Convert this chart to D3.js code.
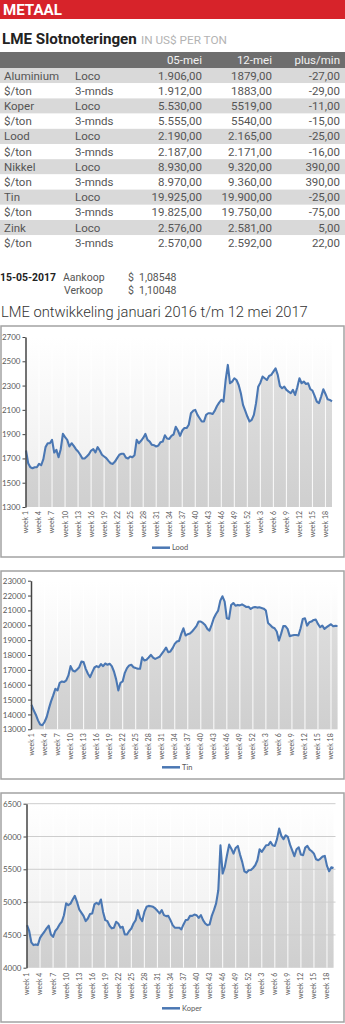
<!DOCTYPE html>
<html><head><meta charset="utf-8">
<script src="https://cdn.jsdelivr.net/npm/d3@7"></script>
<style>
html,body{margin:0;padding:0;background:#fff;}
svg{display:block;}
</style></head>
<body><svg id="c" width="345" height="1024"></svg>
<script>
// ---------- data ----------
const metals  = ["Aluminium","$/ton","Koper","$/ton","Lood","$/ton","Nikkel","$/ton","Tin","$/ton","Zink","$/ton"];
const kinds   = ["Loco","3-mnds","Loco","3-mnds","Loco","3-mnds","Loco","3-mnds","Loco","3-mnds","Loco","3-mnds"];
const may05   = ["1.906,00","1.912,00","5.530,00","5.555,00","2.190,00","2.187,00","8.930,00","8.970,00","19.925,00","19.825,00","2.576,00","2.570,00"];
const may12   = ["1879,00","1883,00","5519,00","5540,00","2.165,00","2.171,00","9.320,00","9.360,00","19.900,00","19.750,00","2.581,00","2.592,00"];
const plusMin = ["-27,00","-29,00","-11,00","-15,00","-25,00","-16,00","390,00","390,00","-25,00","-75,00","5,00","22,00"];
const headers = ["05-mei","12-mei","plus/min"];

// week tick labels (every 3 weeks, 2016 wk1 .. 2017 wk18)
const weekLabels = ["week 1","week 4","week 7","week 10","week 13","week 16","week 19","week 22","week 25","week 28","week 31","week 34","week 37","week 40","week 43","week 46","week 49","week 52","week 3","week 6","week 9","week 12","week 15","week 18"];

// half-week samples
const lood = [1765,1661,1627,1619,1627,1627,1655,1644,1694,1793,
 1825,1825,1853,1749,1771,1710,1776,1902,1875,1853,
 1798,1825,1803,1776,1757,1730,1699,1699,1716,1735,
 1765,1776,1749,1793,1765,1730,1716,1702,1680,1661,
 1655,1674,1702,1730,1738,1738,1708,1699,1716,1710,
 1727,1853,1825,1845,1869,1902,1853,1839,1812,1809,
 1798,1806,1834,1839,1891,1864,1861,1886,1897,1960,
 1930,1886,1930,1950,1950,1977,2072,2092,2100,2059,
 2031,2004,2004,2059,2072,2072,2066,2094,2132,2160,
 2182,2168,2346,2470,2319,2333,2360,2346,2305,2237,
 2141,2094,2045,2004,2018,2059,2155,2291,2324,2374,
 2360,2346,2379,2388,2415,2442,2388,2297,2278,2291,
 2264,2250,2237,2264,2223,2286,2360,2319,2333,2313,
 2319,2270,2259,2215,2168,2155,2209,2270,2231,2187,
 2182,2170];

const tin = [14650,14280,13985,13600,13320,13270,13490,13830,14390,14880,
 15280,15730,15620,16130,16220,16180,16290,16625,17250,16960,
 16890,17030,17180,17560,17520,17070,16740,16510,16850,17160,
 17250,17180,17390,17250,17430,17340,17410,17250,16890,16360,
 15620,16130,16220,16800,17120,17300,17340,17180,17120,17070,
 17070,17850,17630,17680,17830,18010,17830,17740,17810,17880,
 18080,18280,18500,18190,18240,18460,18750,18910,18950,19420,
 19800,19310,19400,19440,19580,19760,19940,20250,20250,20160,
 20025,19760,19645,20025,20470,20760,20990,21660,21950,21590,
 20470,20430,21370,21500,21320,21370,21340,21410,21320,21230,
 21250,21100,21190,21230,21190,21210,21170,21120,20990,20160,
 20025,19870,19800,19580,18970,19420,19940,19940,19760,19270,
 19310,19350,19350,19310,19800,20430,20470,19980,20200,20250,
 20360,20380,20090,19870,19980,19760,19870,19980,20070,19940,
 19960,19950];

const koper = [4650,4560,4385,4345,4355,4345,4455,4505,4548,4600,
 4640,4505,4470,4560,4600,4660,4700,4800,4980,4953,
 4975,5040,5095,5004,4890,4840,4790,4710,4750,4820,
 4827,4965,4990,4965,5040,4850,4725,4710,4640,4600,
 4610,4700,4674,4610,4624,4505,4505,4560,4598,4674,
 4725,4877,4760,4710,4850,4928,4943,4938,4928,4903,
 4867,4827,4877,4801,4786,4790,4725,4649,4610,4610,
 4610,4585,4660,4725,4730,4790,4790,4810,4801,4760,
 4801,4725,4674,4649,4660,4790,4877,4980,5180,5866,
 5435,5537,5714,5876,5815,5739,5826,5856,5724,5613,
 5470,5450,5486,5490,5520,5562,5638,5805,5765,5815,
 5866,5870,5917,5866,5856,5960,6120,6010,5960,6018,
 5993,5876,5790,5700,5805,5835,5724,5714,5830,5856,
 5800,5775,5739,5653,5638,5663,5694,5704,5552,5470,
 5532,5520];

const loodTicks  = [1300,1500,1700,1900,2100,2300,2500,2700];
const tinTicks   = [13000,14000,15000,16000,17000,18000,19000,20000,21000,22000,23000];
const koperTicks = [4000,4500,5000,5500,6000,6500];

// ---------- drawing ----------
const svg = d3.select("#c");
const W = 345;
const defs = svg.append("defs");

function fitText(sel, size, width) {
  sel.attr("font-size", size);
  const w = sel.node().getComputedTextLength();
  if (w > 0) sel.attr("font-size", size * width / w);
  return sel;
}

// header band
svg.append("rect").attr("x",0).attr("y",0).attr("width",W).attr("height",19).attr("fill","#d7232a");
fitText(svg.append("text").attr("x",3).attr("y",15.3).attr("fill","#fff")
  .attr("font-family","Roboto, sans-serif").attr("font-weight",700).text("METAAL"), 16, 59);

fitText(svg.append("text").attr("x",2).attr("y",43.5).attr("fill","#222")
  .attr("font-family","Roboto, sans-serif").attr("font-weight",700).text("LME Slotnoteringen"), 16, 135);
fitText(svg.append("text").attr("x",141).attr("y",43.5).attr("fill","#b3b3b3")
  .attr("font-family","Roboto, sans-serif").attr("font-weight",400).text("IN US$ PER TON"), 9.5, 86);

// table
const rowTop = 68, rowH = 15.2;
const tbl = svg.append("g").attr("font-family","Roboto, sans-serif").attr("font-size",11.5);
tbl.append("rect").attr("x",0).attr("y",52).attr("width",W).attr("height",16).attr("fill","#6e6e6e");
const colRight = [202, 272, 340];
headers.forEach((h,i) => {
  tbl.append("text").attr("x",colRight[i]).attr("y",64.2).attr("text-anchor","end")
    .attr("fill","#f2f2f2").text(h);
});
metals.forEach((m,k) => {
  const y0 = rowTop + k*rowH;
  tbl.append("rect").attr("x",0).attr("y",y0).attr("width",W).attr("height",rowH)
    .attr("fill", k%2===0 ? "#d9d9d9" : "#ffffff");
  const by = y0 + 11.6;
  tbl.append("text").attr("x",4).attr("y",by).attr("fill","#555").text(m);
  tbl.append("text").attr("x",75).attr("y",by).attr("fill","#555").text(kinds[k]);
  [may05[k], may12[k], plusMin[k]].forEach((v,i) => {
    tbl.append("text").attr("x",colRight[i]).attr("y",by).attr("text-anchor","end").attr("fill","#555").text(v);
  });
});

// exchange rates
const fx = svg.append("g").attr("font-family","Roboto, sans-serif").attr("font-size",10.5).attr("fill","#555");
fitText(fx.append("text").attr("x",0).attr("y",281).attr("fill","#222").attr("font-weight",700).text("15-05-2017"), 11, 56);
fx.append("text").attr("x",63).attr("y",281).text("Aankoop");
fx.append("text").attr("x",128).attr("y",281).text("$");
fx.append("text").attr("x",139).attr("y",281).text("1,08548");
fx.append("text").attr("x",64).attr("y",293.5).text("Verkoop");
fx.append("text").attr("x",128).attr("y",293.5).text("$");
fx.append("text").attr("x",139).attr("y",293.5).text("1,10048");

fitText(svg.append("text").attr("x",1).attr("y",316.5).attr("fill","#333")
  .attr("font-family","Roboto, sans-serif").attr("font-weight",300)
  .text("LME ontwikkeling januari 2016 t/m 12 mei 2017"), 17, 307);

// gradients
const bgGrad = defs.append("linearGradient").attr("id","bgGrad").attr("x1",0).attr("y1",0).attr("x2",0).attr("y2",1);
bgGrad.append("stop").attr("offset","0%").attr("stop-color","#ffffff");
bgGrad.append("stop").attr("offset","100%").attr("stop-color","#ececec");
const arGrad = defs.append("linearGradient").attr("id","arGrad").attr("x1",0).attr("y1",0).attr("x2",0).attr("y2",1)
  .attr("gradientUnits","objectBoundingBox");
arGrad.append("stop").attr("offset","0%").attr("stop-color","#e0e0e0");
arGrad.append("stop").attr("offset","100%").attr("stop-color","#cfcfcf");

const lineColor = "#4a77b3";

function drawChart(c) {
  const g = svg.append("g");
  // panel
  g.append("rect").attr("x",1).attr("y",c.panelTop).attr("width",343).attr("height",c.panelBottom-c.panelTop)
    .attr("fill","#fff").attr("stroke","#a3a3a3").attr("stroke-width",1.5);

  const x = d3.scaleLinear().domain([0, c.values.length-1]).range([c.left+0.5, c.right]);
  const y = d3.scaleLinear().domain([c.ticks[0], c.ticks[c.ticks.length-1]]).range([c.bottom, c.top]);

  // plot background
  g.append("rect").attr("x",c.left).attr("y",c.top).attr("width",c.right-c.left).attr("height",c.bottom-c.top)
    .attr("fill","url(#bgGrad)");

  const area = d3.area().x((d,i)=>x(i)).y0(c.bottom).y1(d=>y(d));
  g.append("path").datum(c.values).attr("d",area).attr("fill","url(#arGrad)");

  // white vertical grid at label positions
  weekLabels.forEach((lab,k) => {
    if (k===0) return;
    const xx = x(k*6);
    g.append("line").attr("x1",xx).attr("x2",xx).attr("y1",c.top).attr("y2",c.bottom)
      .attr("stroke","#ffffff").attr("stroke-width",1.1).attr("stroke-opacity",0.85);
  });

  if (c.hgrid) {
    c.ticks.slice(1).forEach(t => {
      g.append("line").attr("x1",c.left).attr("x2",c.right+2).attr("y1",y(t)).attr("y2",y(t))
        .attr("stroke","#cdcdcd").attr("stroke-width",1);
    });
  }

  const line = d3.line().x((d,i)=>x(i)).y(d=>y(d));
  g.append("path").datum(c.values).attr("d",line).attr("fill","none")
    .attr("stroke",lineColor).attr("stroke-width",2.1).attr("stroke-linejoin","round");

  // y axis
  const ax = g.append("g").attr("transform",`translate(${c.left},0)`)
    .call(d3.axisLeft(y).tickValues(c.ticks).tickSize(3).tickSizeOuter(0).tickFormat(d3.format("d")));
  ax.select(".domain").attr("stroke","#444").attr("stroke-width",1.5);
  ax.selectAll(".tick line").attr("stroke","#444");
  ax.selectAll(".tick text").attr("fill","#5a5a5a").attr("font-family","Lato, sans-serif")
    .attr("font-size",8).attr("x",-5);

  // week labels
  weekLabels.forEach((lab,k) => {
    const xx = x(k*6);
    g.append("text").attr("transform",`translate(${xx},${c.bottom+c.labGap}) rotate(-90)`)
      .attr("text-anchor","end").attr("dy","0.35em")
      .attr("font-family","Lato, sans-serif").attr("font-size",7).attr("fill","#5a5a5a").text(lab);
  });

  // legend
  g.append("line").attr("x1",c.legendX).attr("x2",c.legendX+18).attr("y1",c.legendY).attr("y2",c.legendY)
    .attr("stroke",lineColor).attr("stroke-width",2.5);
  g.append("text").attr("x",c.legendX+20).attr("y",c.legendY+2.6)
    .attr("font-family","Lato, sans-serif").attr("font-size",7.5).attr("fill","#5a5a5a").text(c.name);
}

drawChart({panelTop:326, panelBottom:557, left:25.5, right:332, top:337, bottom:507,
  ticks:loodTicks, values:lood, hgrid:false, legendX:152, legendY:547.7, name:"Lood", labGap:4});
drawChart({panelTop:571, panelBottom:779, left:31, right:337.5, top:580.7, bottom:729.3,
  ticks:tinTicks, values:tin, hgrid:false, legendX:162, legendY:767.3, name:"Tin", labGap:4});
drawChart({panelTop:793, panelBottom:1022, left:26.5, right:333.5, top:803.7, bottom:967.7,
  ticks:koperTicks, values:koper, hgrid:true, legendX:162, legendY:1008.3, name:"Koper", labGap:5});
</script></body></html>
